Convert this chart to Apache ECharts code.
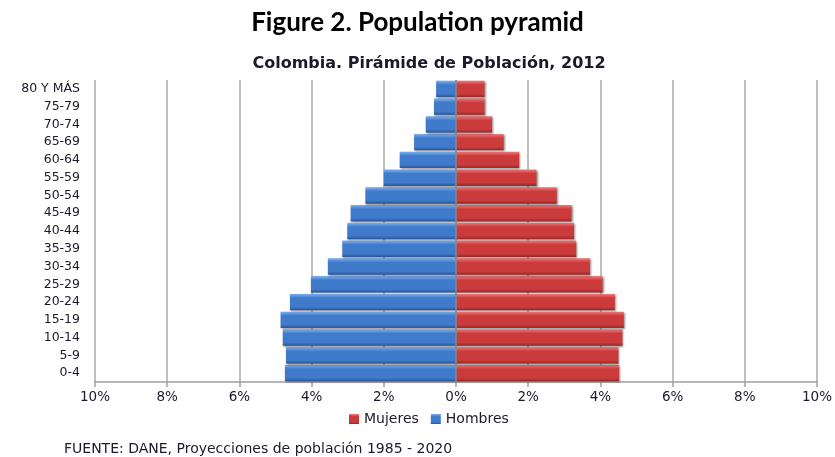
<!DOCTYPE html>
<html>
<head>
<meta charset="utf-8">
<script src="https://cdn.jsdelivr.net/npm/echarts@6/dist/echarts.min.js"></script>
<style>html,body{margin:0;padding:0;background:#fff;}#c{width:835px;height:457px;}</style>
</head>
<body>
<div id="c"></div>
<script>
var ageGroups = ['0-4','5-9','10-14','15-19','20-24','25-29','30-34','35-39','40-44','45-49','50-54','55-59','60-64','65-69','70-74','75-79','80 Y MÁS'];
var hombres = [4.74,4.71,4.80,4.86,4.60,4.02,3.55,3.15,3.01,2.92,2.51,2.00,1.56,1.16,0.84,0.61,0.55];
var mujeres = [4.52,4.50,4.61,4.65,4.40,4.06,3.71,3.33,3.27,3.20,2.79,2.23,1.75,1.32,1.00,0.79,0.79];
var xTicks = {min:-10, max:10, interval:2};

var FONT = 'Lato, "Open Sans", sans-serif';
var FONT2 = '"DejaVu Sans", sans-serif';
var TXT = '#1a1a2a';
var chart = echarts.init(document.getElementById('c'));
function grad(top, mid, bot){
  return new echarts.graphic.LinearGradient(0,0,0,1,[
    {offset:0,color:top},{offset:0.25,color:mid},{offset:0.8,color:mid},{offset:1,color:bot}]);
}
chart.setOption({
  animation:false,
  textStyle:{fontFamily:FONT2},
  title:[
    {text:'Figure 2. Population pyramid', left:'center', top:5,
     textStyle:{fontFamily:FONT, fontSize:26, fontWeight:'bold', color:'#000'}},
    {text:'Colombia. Pirámide de Población, 2012', left:424, textAlign:'center', top:51,
     textStyle:{fontFamily:FONT2, fontSize:16, fontWeight:'bold', color:TXT}}
  ],
  legend:{
    data:['Mujeres','Hombres'], top:407, left:344,
    icon:'rect', itemWidth:10, itemHeight:10, itemGap:12,
    textStyle:{fontFamily:FONT2, fontSize:14, color:TXT}
  },
  grid:{left:95, right:18, top:80, bottom:75, containLabel:false},
  xAxis:{
    type:'value', min:xTicks.min, max:xTicks.max, interval:xTicks.interval,
    axisLine:{show:true, lineStyle:{color:'#a0a0a0', width:1.5}},
    axisTick:{show:true, length:5, lineStyle:{color:'#a0a0a0', width:1.5}},
    splitLine:{show:true, lineStyle:{color:'#a8a8a8', width:1.5}},
    axisLabel:{formatter:function(v){return Math.abs(v)+'%';}, fontSize:13.5, color:TXT, margin:8, fontFamily:FONT2}
  },
  yAxis:{
    type:'category', data:ageGroups,
    axisLine:{show:false}, axisTick:{show:false},
    axisLabel:{interval:0, fontSize:12.5, color:TXT, margin:15, fontFamily:FONT2}
  },
  series:[
    {name:'Hombres', type:'bar', stack:'p', barCategoryGap:'8%',
     data:hombres.map(function(v){return -v;}),
     itemStyle:{color:grad('#7fb0ee','#3f7acb','#2a5595'), shadowBlur:2, shadowColor:'rgba(0,0,0,0.45)', shadowOffsetX:1, shadowOffsetY:1},
     markLine:{silent:true, symbol:'none', label:{show:false},
       lineStyle:{color:'#8a8a8a', width:1.5, type:'solid'}, data:[{xAxis:0}]}
    },
    {name:'Mujeres', type:'bar', stack:'p', barCategoryGap:'8%',
     data:mujeres,
     itemStyle:{color:grad('#f07a7a','#cc3b3b','#952828'), shadowBlur:2, shadowColor:'rgba(0,0,0,0.45)', shadowOffsetX:1, shadowOffsetY:1}
    }
  ],
  graphic:[
    {type:'text', left:64, top:442, style:{text:'FUENTE: DANE, Proyecciones de población 1985 - 2020', fontFamily:FONT2, fontSize:14, fill:TXT}}
  ]
});
</script>
</body>
</html>
